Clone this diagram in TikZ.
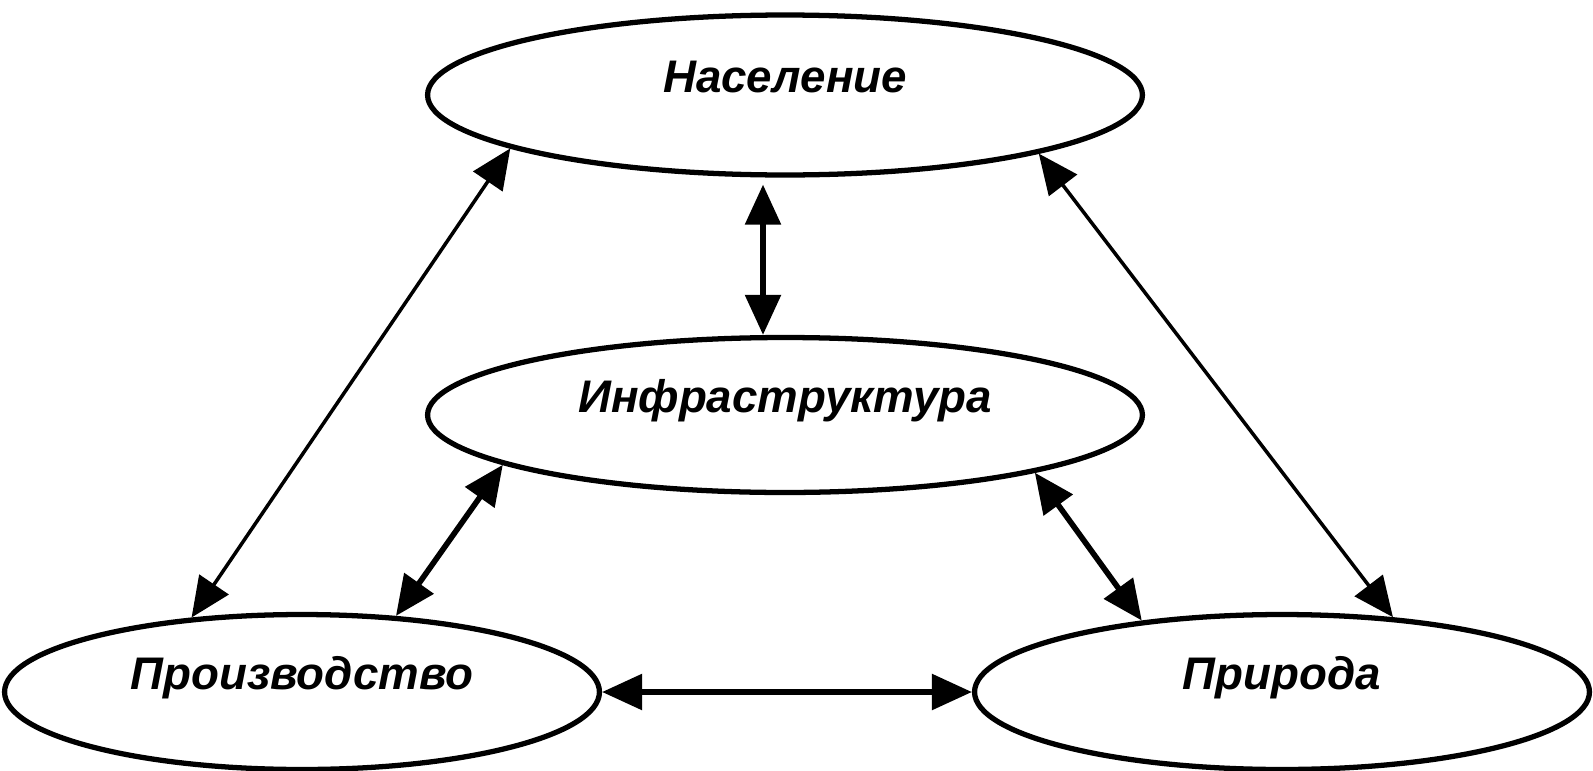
\documentclass[tikz,border=0pt]{standalone}
\usepackage{fontspec}
\setmainfont{Liberation Sans}
\usetikzlibrary{arrows.meta}
\usetikzlibrary{positioning,calc}
\usetikzlibrary{shapes}
\tikzset{
    sphere/.style={
        draw,
        ellipse,
        line width=3pt,
        inner sep=0pt,
        text height=0.6cm,
        text depth=0.7cm,
        font=\fontsize{26}{30}\selectfont\bfseries\itshape
    },
    link/.style={
        draw,
        {Triangle[length=8mm, width=7mm]}-{Triangle[length=8mm, width=7mm]},
        line width=2pt
    },
    boldlink/.style={
        link,
        line width=3.2pt
    }
}

\begin{document}
\begin{tikzpicture}[x=0.02cm, y=-0.02cm]
  \useasboundingbox (0,0) rectangle (1593,771);

  % The four spheres
  \node[sphere, minimum width=14.3cm, minimum height=3.2cm] (nas) at (785,95) {Население};
  \node[sphere, minimum width=14.3cm, minimum height=3.1cm] (inf) at (785,415) {Инфраструктура};
  \node[sphere, minimum width=11.9cm, minimum height=3.1cm] (pro) at (302,692) {Производство};
  \node[sphere, minimum width=12.3cm, minimum height=3.1cm] (pri) at (1282,692) {Природа};

  % Population links
  \draw[link] (nas.191) -- (pro.146);
  \draw[link] (nas.347) -- (pri.34);
  \draw[boldlink] ([xshift=-0.44cm, yshift=-0.14cm]nas.south) -- ([xshift=-0.44cm]inf.north);

  % Infrastructure links
  \draw[boldlink] (inf.190) -- (pro.39);
  \draw[boldlink] (inf.347) -- (pri.153);

  % Production and nature
  \draw[boldlink] (pro.east) -- (pri.west);
\end{tikzpicture}
\end{document}
